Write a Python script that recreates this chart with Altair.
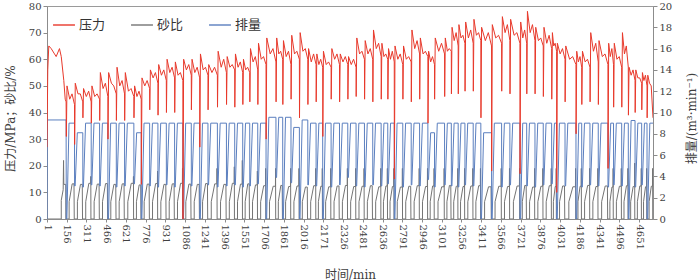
import altair as alt
import pandas as pd

# ---------------- data ----------------
# stage boundaries (min) - each stage: flow drop, pressure dip, sand slug
stage_start = [152, 217, 282, 348, 414, 479, 545, 610, 683, 741,
               807, 872, 938, 1003, 1068, 1134, 1200, 1265, 1339, 1410,
               1475, 1538, 1593, 1656, 1721, 1799, 1852, 1917, 1983, 2049,
               2114, 2166, 2232, 2298, 2363, 2428, 2494, 2559, 2625, 2677,
               2728, 2795, 2861, 2927, 2992, 3044, 3123, 3176, 3230, 3283,
               3348, 3408, 3492, 3571, 3636, 3715, 3768, 3833, 3898, 3964,
               4003, 4069, 4155, 4200, 4265, 4330, 4406, 4450, 4514, 4566,
               4619, 4671, 4713]
T_END = 4760

# pressure (MPa): before first stage
pre_p_t = [1, 7, 15, 34, 60, 73, 99, 113, 133, 144, 151]
pre_p_v = [27, 56, 65, 64, 62, 61, 64, 61, 52, 45, 44]
# pressure per stage: dip at start, peak after recovery, mid low, later bump, end value
p_dip = [31, 28, 38, 36, 37, 30, 37, 37, 38, 13,
         41, 39, 40, 40, 0, 41, 27, 41, 42, 43,
         42, 43, 44, 43, 30, 44, 43, 45, 38, 43,
         44, 31, 45, 44, 45, 46, 45, 44, 45, 45,
         15, 45, 44, 45, 36, 45, 46, 47, 47, 48,
         48, 38, 18, 48, 47, 17, 47, 47, 46, 45,
         10, 44, 32, 43, 44, 43, 19, 42, 42, 39,
         40, 41, 38]
p_hi = [50, 51, 49, 50, 55, 55, 57, 55, 50, 53,
        56, 58, 60, 59, 60, 60, 62, 58, 63, 61,
        62, 60, 64, 66, 68, 68, 67, 69, 70, 64,
        62, 63, 64, 62, 61, 68, 67, 71, 66, 64,
        65, 65, 71, 68, 63, 68, 68, 72, 73, 74,
        75, 72, 73, 76, 75, 74, 78, 72, 72, 70,
        66, 65, 63, 63, 70, 67, 66, 66, 70, 57,
        56, 55, 54]
p_mid = [45, 47, 46, 46, 49, 51, 50, 48, 46, 50,
         53, 54, 55, 54, 56, 55, 56, 55, 57, 57,
         57, 56, 59, 60, 62, 62, 61, 62, 63, 59,
         58, 58, 60, 59, 58, 62, 62, 64, 61, 60,
         60, 60, 64, 62, 59, 63, 63, 67, 68, 68,
         69, 67, 68, 70, 69, 68, 70, 67, 66, 65,
         62, 60, 59, 59, 63, 61, 61, 60, 62, 54,
         53, 52, 51]
p_bump = [47, 47, 48, 47, 51, 50, 52, 49, 48, 52,
          55, 56, 57, 55, 58, 57, 57, 57, 60, 58,
          59, 57, 61, 61, 64, 63, 63, 63, 64, 62,
          60, 59, 62, 61, 60, 63, 64, 66, 62, 63,
          62, 61, 67, 63, 61, 66, 64, 70, 69, 71,
          70, 70, 69, 73, 70, 71, 73, 68, 69, 66,
          64, 61, 61, 60, 66, 62, 64, 61, 65, 56,
          53, 54, 50]
p_lo = [43, 44, 44, 45, 46, 47, 47, 46, 45, 49,
        51, 52, 53, 52, 54, 53, 54, 54, 55, 56,
        55, 55, 56, 58, 59, 60, 58, 60, 60, 58,
        57, 57, 58, 58, 57, 60, 60, 61, 60, 59,
        58, 59, 62, 61, 58, 62, 63, 65, 66, 66,
        67, 65, 66, 67, 66, 66, 67, 65, 64, 63,
        60, 58, 57, 57, 59, 58, 58, 57, 57, 52,
        51, 50, 38]

# flow rate (m3/min): before first stage, then per stage low / working level
pre_q_t = [1, 3, 151]
pre_q_v = [0, 9.3, 9.3]
q_lo = [0, 3.1, 3.0, 3.2, 3.1, 0, 3.0, 3.1, 3.3, 0,
        3.1, 3.0, 3.2, 3.0, 0, 3.1, 0, 3.2, 3.0, 3.1,
        3.2, 3.0, 3.1, 3.3, 0, 3.9, 0, 3.4, 0, 3.2,
        3.1, 0, 3.0, 3.2, 3.9, 3.1, 3.0, 3.2, 3.1, 3.3,
        0, 3.0, 3.2, 3.1, 3.7, 3.0, 3.2, 3.1, 3.0, 3.2,
        3.1, 0, 0, 3.0, 3.2, 0, 3.1, 3.0, 3.2, 3.3,
        0, 3.1, 0, 3.0, 3.2, 3.1, 3.0, 3.2, 3.1, 0,
        3.0, 3.2, 0]
q_hi = [9.0, 8.1, 9.0, 9.0, 9.0, 9.0, 9.0, 9.0, 8.1, 9.0,
        9.0, 9.0, 9.0, 9.0, 9.0, 9.0, 9.0, 9.0, 9.0, 9.0,
        9.0, 9.0, 9.0, 9.0, 9.55, 9.55, 9.55, 8.6, 9.3, 9.0,
        9.0, 9.0, 9.0, 9.0, 9.0, 9.0, 9.0, 9.0, 9.0, 9.0,
        9.0, 9.0, 9.0, 9.0, 8.1, 9.0, 9.0, 9.0, 9.0, 9.0,
        9.0, 8.1, 9.0, 9.0, 9.0, 9.0, 9.0, 9.0, 9.0, 9.0,
        9.0, 9.0, 9.0, 9.0, 9.0, 9.0, 9.0, 9.0, 9.0, 9.25,
        9.0, 9.0, 9.0]

# sand ratio (%): before first stage, then per stage start level, plateau, end spike
pre_s_t = [1, 113, 113, 128, 131, 133, 148, 149]
pre_s_v = [0, 0, 7, 11, 22, 13, 13, 0]
S_START = 6.5
s_top = [13.2, 13.0, 13.4, 13.1, 13.3, 13.0, 13.2, 13.4, 12.8, 13.1,
         13.3, 13.0, 13.2, 13.4, 13.1, 13.0, 13.3, 13.2, 13.0, 13.4,
         13.1, 13.2, 12.8, 12.5, 12.3, 12.6, 12.2, 12.4, 12.0, 12.5,
         12.3, 12.1, 12.4, 12.6, 12.2, 12.3, 12.5, 12.1, 12.4, 12.2,
         12.0, 12.3, 12.5, 12.2, 12.4, 12.1, 12.6, 12.3, 12.2, 12.4,
         12.5, 12.1, 12.3, 12.2, 12.4, 12.6, 12.0, 12.3, 12.5, 12.2,
         12.4, 12.1, 12.3, 12.6, 12.2, 12.4, 12.0, 12.3, 12.5, 12.2,
         12.4, 12.1, 12.3]
s_spike = [0, 0, 16, 0, 0, 0, 0, 16, 0, 0,
           18, 0, 0, 19, 0, 0, 0, 19, 0, 19.6,
           22, 0, 18, 19, 19, 0, 19, 19, 0, 19,
           19, 19, 0, 19, 19, 19, 0, 19, 19, 19,
           19, 0, 19, 19, 19, 19, 0, 19, 19, 19,
           19, 0, 19, 19, 19, 0, 19, 19, 19, 19,
           0, 19, 19, 19, 19, 0, 19, 19, 19, 21,
           19, 19, 19]

x_ticks = [1, 156, 311, 466, 621, 776, 931, 1086, 1241, 1396, 1551, 1706,
           1861, 2016, 2171, 2326, 2481, 2636, 2791, 2946, 3101, 3256, 3411,
           3566, 3721, 3876, 4031, 4186, 4341, 4496, 4651]
series_names = ["压力", "砂比", "排量"]

n = len(stage_start)
for arr in (p_dip, p_hi, p_mid, p_bump, p_lo, q_lo, q_hi, s_top, s_spike):
    assert len(arr) == n, len(arr)

# ---------------- build tables ----------------
P = list(zip(pre_p_t, pre_p_v))
Q = list(zip(pre_q_t, pre_q_v))
S = list(zip(pre_s_t, pre_s_v))
for i, b in enumerate(stage_start):
    e = stage_start[i + 1] if i + 1 < n else T_END
    L = e - b
    P += [(b + 1, p_dip[i]), (b + 6, p_hi[i]), (b + 0.42 * L, p_mid[i]),
          (b + 0.7 * L, p_bump[i]), (e, p_lo[i])]
    Q += [(b + 0.5, q_lo[i]), (b + 5, q_lo[i]), (b + 22, q_hi[i]), (e, q_hi[i])]
    s_on = b + 0.35 * L
    S += [(s_on, 0), (s_on, S_START), (b + 0.72 * L, s_top[i]), (e - 4, s_top[i])]
    if s_spike[i]:
        S += [(e - 3, s_spike[i])]
    S += [(e - 2, 0)]


def frame(rows, name):
    return pd.DataFrame({"t": [r[0] for r in rows], "v": [r[1] for r in rows],
                         "i": list(range(len(rows))), "series": name})


dfP = frame(P, "压力")
dfS = frame(S, "砂比")
dfQ = frame(Q, "排量")

RED = "#e8392b"
GRAY = "#747474"
BLUE = "#5b7fbf"
NUM_FONT = "DejaVu Serif"
TXT_FONT = "DejaVu Serif, Noto Sans CJK SC"
AX = dict(labelFont=NUM_FONT, labelFontSize=10, labelColor="#404040",
          titleFont=TXT_FONT, titleFontSize=12, titleFontWeight="normal",
          titleColor="#404040", domainColor="#8c8c8c", tickColor="#8c8c8c",
          grid=False, labelFlush=False)

x = alt.X("t:Q", scale=alt.Scale(domain=[1, T_END], nice=False, zero=False),
          axis=alt.Axis(values=x_ticks, format="d", labelAngle=90, title="时间/min",
                        labelOverlap=False, tickSize=3,
                        labelPadding=2, titleX=303, titleY=55,
                        titleAlign="center", titleBaseline="middle", **AX))
color = alt.Color("series:N",
                  scale=alt.Scale(domain=series_names, range=[RED, GRAY, BLUE]),
                  legend=alt.Legend(title=None, orient="none", legendX=5, legendY=7,
                                    direction="horizontal", symbolType="stroke",
                                    symbolSize=480, symbolStrokeWidth=1.4,
                                    labelFont=TXT_FONT, labelFontSize=13,
                                    labelColor="#333333", columnPadding=22,
                                    labelOffset=3, padding=0))
order = alt.Order("i:Q")

sand = alt.Chart(dfS).mark_line(strokeWidth=1, clip=True).encode(
    x=x, y=alt.Y("v:Q", scale=alt.Scale(domain=[0, 80]), axis=None),
    color=color, order=order)

flow = alt.Chart(dfQ).mark_line(strokeWidth=1, clip=True).encode(
    x=x,
    y=alt.Y("v:Q", scale=alt.Scale(domain=[0, 20], nice=False),
            axis=alt.Axis(orient="right", values=list(range(0, 21, 2)),
                          title="排量/(m³·min⁻¹)", titleAngle=270,
                          titleX=38, titleY=112, titleAlign="center",
                          titleBaseline="middle", tickSize=4, labelPadding=2, **AX)),
    color=color, order=order)

press = alt.Chart(dfP).mark_line(strokeWidth=1, clip=True).encode(
    x=x,
    y=alt.Y("v:Q", scale=alt.Scale(domain=[0, 80], nice=False),
            axis=alt.Axis(orient="left", values=list(range(0, 81, 10)),
                          title="压力/MPa；砂比/%", titleAngle=270,
                          titleX=-37, titleY=112, titleAlign="center",
                          titleBaseline="middle", tickSize=4, labelPadding=2, **AX)),
    color=color, order=order)

chart = alt.layer(sand, flow, press).resolve_scale(y="independent").properties(
    width=606, height=213, autosize="none", background="white",
    padding={"left": 47, "top": 6, "right": 47, "bottom": 61},
).configure_view(stroke="#9a9a9a", strokeWidth=1)

chart.save("out.html", embed_options={"renderer": "svg", "actions": False})
